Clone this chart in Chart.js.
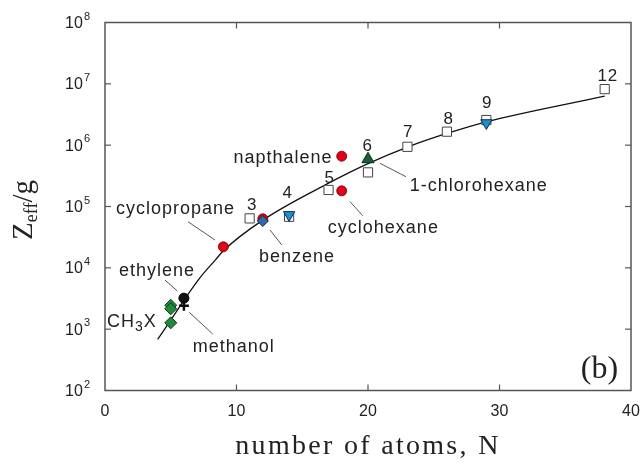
<!DOCTYPE html>
<html><head><meta charset="utf-8">
<script src="https://cdn.jsdelivr.net/npm/chart.js@4.4.0/dist/chart.umd.min.js"></script>
<style>html,body{margin:0;padding:0;background:#fff}canvas{display:block}</style>
</head><body>
<canvas id="c" width="642" height="466"></canvas>
<script>
// ---- data ----
const xTicks = [0, 10, 20, 30, 40];
const yExponents = [2, 3, 4, 5, 6, 7, 8];

const curveN = [4, 5, 6, 7.2, 8.4, 9, 12, 17, 20, 23, 26, 29, 38];
const curveZ = [680, 1400, 2950, 6800, 13500, 19000, 60000, 240000, 500000, 930000, 1550000, 2400000, 6300000];

const alkaneN = [11, 14, 17, 20, 23, 26, 29, 38];
const alkaneZ = [64000, 68000, 186000, 360000, 940000, 1660000, 2570000, 8200000];
const alkaneLabels = ['3', '4', '5', '6', '7', '8', '9', '12'];
const alkaneLabelN = [11.16, 13.86, 17.06, 19.95, 23.02, 26.11, 29.03, 38.2];
const alkaneLabelZ = [106000, 164000, 288000, 944000, 1600000, 2670000, 4820000, 13400000];

const ringN = [9, 12, 18, 18];
const ringZ = [22000, 63000, 660000, 180000];

const blueTriN = [14, 29];
const blueTriZ = [73000, 2300000];

const benzeneDN = [12];
const benzeneDZ = [58000];

const chloroN = [20];
const chloroZ = [590000];

const ch3xN = [5, 5, 5];
const ch3xZ = [2450, 2150, 1270];

const ethyleneN = [6];
const ethyleneZ = [3200];

const methanolN = [6];
const methanolZ = [2400];

const nameTexts = ['cyclopropane', 'ethylene', 'methanol', 'benzene', 'napthalene', 'cyclohexane', '1-chlorohexane'];
const nameN = [5.32, 3.92, 9.76, 14.56, 13.5, 21.13, 28.39];
const nameZ = [91000, 8980, 506, 15200, 625000, 45100, 218000];

// leader lines: from (N1, Z1) to (N2, Z2)
const leaderN1 = [6.31, 4.56, 6.41, 12.55, 18.63, 20.91];
const leaderZ1 = [56500, 6320, 1880, 41400, 120000, 506000];
const leaderN2 = [8.37, 5.5, 8.19, 13.44, 19.6, 22.89];
const leaderZ2 = [28400, 4190, 834, 23600, 70800, 306000];

const ch3xLabelN = 0.15, ch3xLabelZ = 1294;
const panelN = 37.6, panelZ = 216;

function pts(xs, ys) { return xs.map((x, i) => ({ x: x, y: ys[i] })); }

const TXT = '#222';
const decor = {
  id: 'decor',
  afterDraw(chart) {
    const ctx = chart.ctx, a = chart.chartArea, xs = chart.scales.x, ys = chart.scales.y;
    const P = (n, z) => [xs.getPixelForValue(n), ys.getPixelForValue(z)];
    ctx.save();
    // frame
    ctx.strokeStyle = '#555'; ctx.lineWidth = 1.5;
    ctx.strokeRect(a.left, a.top, a.right - a.left, a.bottom - a.top);
    ctx.lineWidth = 1.2;
    const seg = (x1, y1, x2, y2) => { ctx.beginPath(); ctx.moveTo(x1, y1); ctx.lineTo(x2, y2); ctx.stroke(); };
    xTicks.forEach(v => {
      const x = xs.getPixelForValue(v);
      if (v > xs.min && v < xs.max) { seg(x, a.bottom, x, a.bottom - 6); seg(x, a.top, x, a.top + 6); }
    });
    yExponents.forEach(e => {
      const y = ys.getPixelForValue(Math.pow(10, e));
      if (e > 2 && e < 8) { seg(a.left, y, a.left + 6, y); seg(a.right, y, a.right - 6, y); }
    });
    // tick labels
    ctx.fillStyle = TXT;
    ctx.font = '16px "Liberation Sans", Arial, sans-serif';
    ctx.textAlign = 'center'; ctx.textBaseline = 'middle';
    xTicks.forEach(v => ctx.fillText(String(v), xs.getPixelForValue(v), a.bottom + 21));
    yExponents.forEach(e => {
      const y = ys.getPixelForValue(Math.pow(10, e));
      ctx.font = '11px "Liberation Sans", Arial, sans-serif';
      ctx.textAlign = 'right'; ctx.textBaseline = 'middle';
      const right = a.left - 15;
      ctx.fillText(String(e), right, y - 6);
      const ew = ctx.measureText(String(e)).width;
      ctx.font = '16px "Liberation Sans", Arial, sans-serif';
      ctx.fillText('10', right - ew - 1, y + 1);
    });
    // axis titles
    ctx.textAlign = 'left'; ctx.textBaseline = 'alphabetic';
    ctx.font = '28px "Liberation Serif", "Times New Roman", serif';
    ctx.letterSpacing = '2.3px';
    const xt = 'number of atoms, N';
    const xw = ctx.measureText(xt).width;
    ctx.fillText(xt, (a.left + a.right) / 2 - xw / 2, 454);
    ctx.letterSpacing = '0px';
    // y title rotated
    ctx.save();
    ctx.translate(32, 210); ctx.rotate(-Math.PI / 2);
    const big = '29px "Liberation Serif", "Times New Roman", serif';
    const small = '18px "Liberation Serif", "Times New Roman", serif';
    ctx.font = big; const wZ = ctx.measureText('Z').width;
    ctx.font = small; const wE = ctx.measureText('eff').width;
    ctx.font = big; const wG = ctx.measureText('/g').width;
    let sx = -(wZ + wE + wG) / 2;
    ctx.font = big; ctx.fillText('Z', sx, 0); sx += wZ;
    ctx.font = small; ctx.fillText('eff', sx, 5); sx += wE;
    ctx.font = big; ctx.fillText('/g', sx, 0);
    ctx.restore();
    // leader lines
    ctx.strokeStyle = '#555'; ctx.lineWidth = 1;
    leaderN1.forEach((n, i) => {
      const p1 = P(n, leaderZ1[i]), p2 = P(leaderN2[i], leaderZ2[i]);
      seg(p1[0], p1[1], p2[0], p2[1]);
    });
    // names
    ctx.fillStyle = TXT;
    ctx.font = '18px "Liberation Sans", Arial, sans-serif';
    ctx.letterSpacing = '1px';
    ctx.textBaseline = 'middle'; ctx.textAlign = 'left';
    nameTexts.forEach((t, i) => {
      const p = P(nameN[i], nameZ[i]);
      const w = ctx.measureText(t).width - 1;
      ctx.fillText(t, p[0] - w / 2, p[1]);
    });
    ctx.font = '17px "Liberation Sans", Arial, sans-serif';
    alkaneLabels.forEach((t, i) => {
      const p = P(alkaneLabelN[i], alkaneLabelZ[i]);
      const w = ctx.measureText(t).width - 1;
      ctx.fillText(t, p[0] - w / 2, p[1]);
    });
    // CH3X
    let c = P(ch3xLabelN, ch3xLabelZ);
    ctx.font = '18px "Liberation Sans", Arial, sans-serif';
    ctx.fillText('CH', c[0], c[1]);
    let cx = c[0] + ctx.measureText('CH').width;
    ctx.font = '14px "Liberation Sans", Arial, sans-serif';
    ctx.fillText('3', cx, c[1] + 5);
    cx += ctx.measureText('3').width;
    ctx.font = '18px "Liberation Sans", Arial, sans-serif';
    ctx.fillText('X', cx, c[1]);
    ctx.letterSpacing = '0px';
    // panel label
    const pb = P(panelN, panelZ);
    ctx.font = '32px "Liberation Serif", "Times New Roman", serif';
    ctx.textAlign = 'center';
    ctx.fillText('(b)', pb[0], pb[1]);
    ctx.restore();
  }
};

new Chart(document.getElementById('c'), {
  type: 'scatter',
  data: {
    datasets: [
      { label: 'methanol', data: pts(methanolN, methanolZ), pointStyle: 'cross', pointRadius: 5, borderColor: '#111', pointBorderWidth: 2.5, order: 1 },
      { label: 'ethylene', data: pts(ethyleneN, ethyleneZ), pointStyle: 'circle', pointRadius: 5, backgroundColor: '#111', borderColor: '#000', pointBorderWidth: 1, order: 2 },
      { label: 'CH3X', data: pts(ch3xN, ch3xZ), pointStyle: 'rectRot', pointRadius: 6, backgroundColor: '#1f8a3c', borderColor: '#0b3a18', pointBorderWidth: 1, order: 3 },
      { label: 'benzene', data: pts(benzeneDN, benzeneDZ), pointStyle: 'rectRot', pointRadius: 5.5, backgroundColor: '#2d6aa8', borderColor: '#0d2a48', pointBorderWidth: 1, order: 4 },
      { label: 'chloro', data: pts(chloroN, chloroZ), pointStyle: 'triangle', pointRadius: 7, backgroundColor: '#1b5e35', borderColor: '#0a2a14', pointBorderWidth: 1, order: 5 },
      { label: 'blue', data: pts(blueTriN, blueTriZ), pointStyle: 'triangle', rotation: 180, pointRadius: 6.5, backgroundColor: '#1e90d0', borderColor: '#0a3050', pointBorderWidth: 1, order: 6 },
      { label: 'rings', data: pts(ringN, ringZ), pointStyle: 'circle', pointRadius: 5, backgroundColor: '#e0001a', borderColor: '#6a0000', pointBorderWidth: 0.8, order: 7 },
      { label: 'alkanes', data: pts(alkaneN, alkaneZ), pointStyle: 'rect', pointRadius: 6.5, backgroundColor: '#fff', borderColor: '#444', pointBorderWidth: 1, order: 8 },
      { label: 'fit', data: pts(curveN, curveZ), showLine: true, pointRadius: 0, borderColor: '#111', borderWidth: 1.3, cubicInterpolationMode: 'monotone', order: 9 }
    ]
  },
  options: {
    responsive: false, animation: false, devicePixelRatio: 1,
    layout: { padding: { left: 105, right: 11, top: 22.5, bottom: 75.5 } },
    plugins: { legend: { display: false }, tooltip: { enabled: false } },
    scales: {
      x: { type: 'linear', min: 0, max: 40, display: false },
      y: { type: 'logarithmic', min: 100, max: 1e8, display: false,
           afterBuildTicks: s => { s.ticks = yExponents.map(e => ({ value: Math.pow(10, e) })); } }
    }
  },
  plugins: [decor]
});
</script>
</body></html>
